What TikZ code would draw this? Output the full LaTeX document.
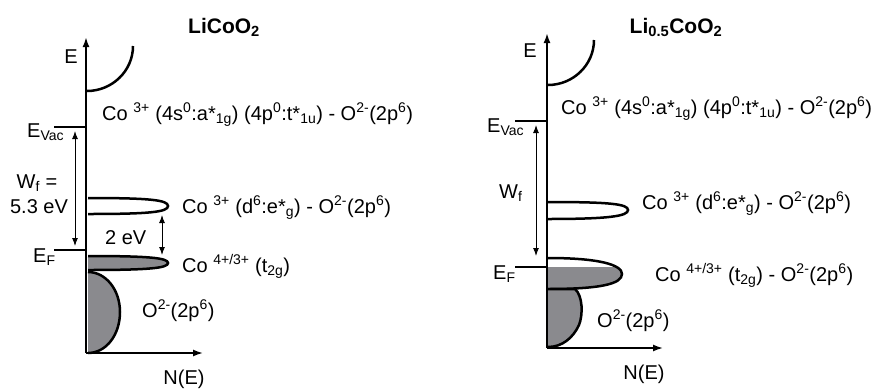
\documentclass[tikz,border=0pt]{standalone}
\usepackage{fontspec}
\setmainfont{Liberation Sans}
\usetikzlibrary{arrows.meta}
\definecolor{bandgray}{RGB}{138,138,142}

\begin{document}
\begin{tikzpicture}[
  x=1pt, y=-1pt,
  lbl/.style={font=\fontsize{20}{24}\selectfont, inner sep=0pt},
  ttl/.style={font=\fontsize{21}{24}\selectfont\bfseries, inner sep=0pt},
  axis/.style={line width=2pt, -{Latex[length=10pt, width=7pt]}},
  naxis/.style={line width=1.6pt, -{Latex[length=10pt, width=7pt]}},
  level/.style={line width=2.4pt},
  band/.style={line width=2.5pt},
  occ/.style={fill=bandgray},
  gap/.style={line width=1pt, {Latex[length=8pt, width=6pt]}-{Latex[length=8pt, width=6pt]}}
]
\useasboundingbox (0,0) rectangle (875,389);
% LiCoO2
\coordinate (oA) at (86,353);
\coordinate (topA) at (86,37);
\coordinate (nA) at (203,353);
\coordinate (vacA1) at (54,127);
\coordinate (vacA2) at (86,127);
\coordinate (fA1) at (54,250);
\coordinate (fA2) at (86,250);
\coordinate (wfA1) at (75,131);
\coordinate (wfA2) at (75,246);
\coordinate (gapA1) at (162,215);
\coordinate (gapA2) at (162,255);
\draw[axis] (oA) -- (topA);
\draw[naxis] (oA) -- (nA);
\draw[level] (vacA1) -- (vacA2);
\draw[level] (fA1) -- (fA2);
\draw[gap] (wfA1) -- (wfA2);
\draw[gap] (gapA1) -- (gapA2);
\draw[band] (133,46) .. controls (133,71) and (112,91) .. (87,91);
\draw[band] (88,198) .. controls (150,198) and (168,200) .. (168,206)
  .. controls (168,212) and (150,214) .. (88,214);
\filldraw[band, occ] (88,256) .. controls (150,256) and (168,258) .. (168,263)
  .. controls (168,268) and (150,270) .. (88,270);
\filldraw[band, occ] (88,272) .. controls (106,272) and (120,290) .. (120,312)
  .. controls (120,335) and (106,353) .. (88,353);
\node[ttl, anchor=base] (titleA) at (224,33) {LiCoO\textsubscript{2}};
\node[lbl, anchor=base east] (eA) at (78,63) {E};
\node[lbl, anchor=base west] (cbA) at (102,120)
  {Co \textsuperscript{3+} (4s\textsuperscript{0}:a*\textsubscript{1g}) (4p\textsuperscript{0}:t*\textsubscript{1u}) - O\textsuperscript{2-}(2p\textsuperscript{6})};
\node[lbl, anchor=base west] (evacA) at (27,137) {E\textsubscript{Vac}};
\node[lbl, anchor=base] (wfA) at (37,188) {W\textsubscript{f} =};
\node[lbl, anchor=base] (wfvalA) at (39,213) {5.3 eV};
\node[lbl, anchor=base west] (efA) at (33,262) {E\textsubscript{F}};
\node[lbl, anchor=base west] (egA) at (182,213)
  {Co \textsuperscript{3+} (d\textsuperscript{6}:e*\textsubscript{g}) - O\textsuperscript{2-}(2p\textsuperscript{6})};
\node[lbl, anchor=base west] (gapvalA) at (105,244) {2 eV};
\node[lbl, anchor=base west] (tgA) at (182,272) {Co \textsuperscript{4+/3+} (t\textsubscript{2g})};
\node[lbl, anchor=base west] (opA) at (142,317) {O\textsuperscript{2-}(2p\textsuperscript{6})};
\node[lbl, anchor=base] (neA) at (184,384) {N(E)};
% Li0.5CoO2
\coordinate (oB) at (547,348);
\coordinate (topB) at (547,33);
\coordinate (nB) at (663,348);
\coordinate (vacB1) at (515,121);
\coordinate (vacB2) at (547,121);
\coordinate (fB1) at (515,267);
\coordinate (fB2) at (547,267);
\coordinate (wfB1) at (536,125);
\coordinate (wfB2) at (536,256);
\draw[axis] (oB) -- (topB);
\draw[naxis] (oB) -- (nB);
\draw[level] (vacB1) -- (vacB2);
\draw[level] (fB1) -- (fB2);
\draw[gap] (wfB1) -- (wfB2);
\draw[band] (594,40) .. controls (594,65) and (573,85) .. (548,85);
\draw[band] (548,202) .. controls (610,202) and (628,204) .. (628,210)
  .. controls (628,216) and (610,219) .. (548,219);
\begin{scope}
  \clip (548,267) rectangle (640,300);
  \fill[occ] (548,258) .. controls (600,258) and (622,265) .. (622,274)
    .. controls (622,284) and (600,289) .. (548,289);
\end{scope}
\draw[band] (548,258) .. controls (600,258) and (622,265) .. (622,274)
  .. controls (622,284) and (600,289) .. (548,289);
\filldraw[band, occ] (548,289) -- (575,289) .. controls (583,296) and (583,315) .. (579,325)
  .. controls (573,338) and (562,347) .. (548,347);
\node[ttl, anchor=base] (titleB) at (676,33) {Li\textsubscript{0.5}CoO\textsubscript{2}};
\node[lbl, anchor=base east] (eB) at (537,57) {E};
\node[lbl, anchor=base west] (cbB) at (561,114)
  {Co \textsuperscript{3+} (4s\textsuperscript{0}:a*\textsubscript{1g}) (4p\textsuperscript{0}:t*\textsubscript{1u}) - O\textsuperscript{2-}(2p\textsuperscript{6})};
\node[lbl, anchor=base west] (evacB) at (487,132) {E\textsubscript{Vac}};
\node[lbl, anchor=base west] (wfB) at (499,198) {W\textsubscript{f}};
\node[lbl, anchor=base west] (efB) at (493,279) {E\textsubscript{F}};
\node[lbl, anchor=base west] (egB) at (642,209)
  {Co \textsuperscript{3+} (d\textsuperscript{6}:e*\textsubscript{g}) - O\textsuperscript{2-}(2p\textsuperscript{6})};
\node[lbl, anchor=base west] (tgB) at (655,281)
  {Co \textsuperscript{4+/3+} (t\textsubscript{2g}) - O\textsuperscript{2-}(2p\textsuperscript{6})};
\node[lbl, anchor=base west] (opB) at (597,327) {O\textsuperscript{2-}(2p\textsuperscript{6})};
\node[lbl, anchor=base] (neB) at (644,379) {N(E)};
\end{tikzpicture}
\end{document}
